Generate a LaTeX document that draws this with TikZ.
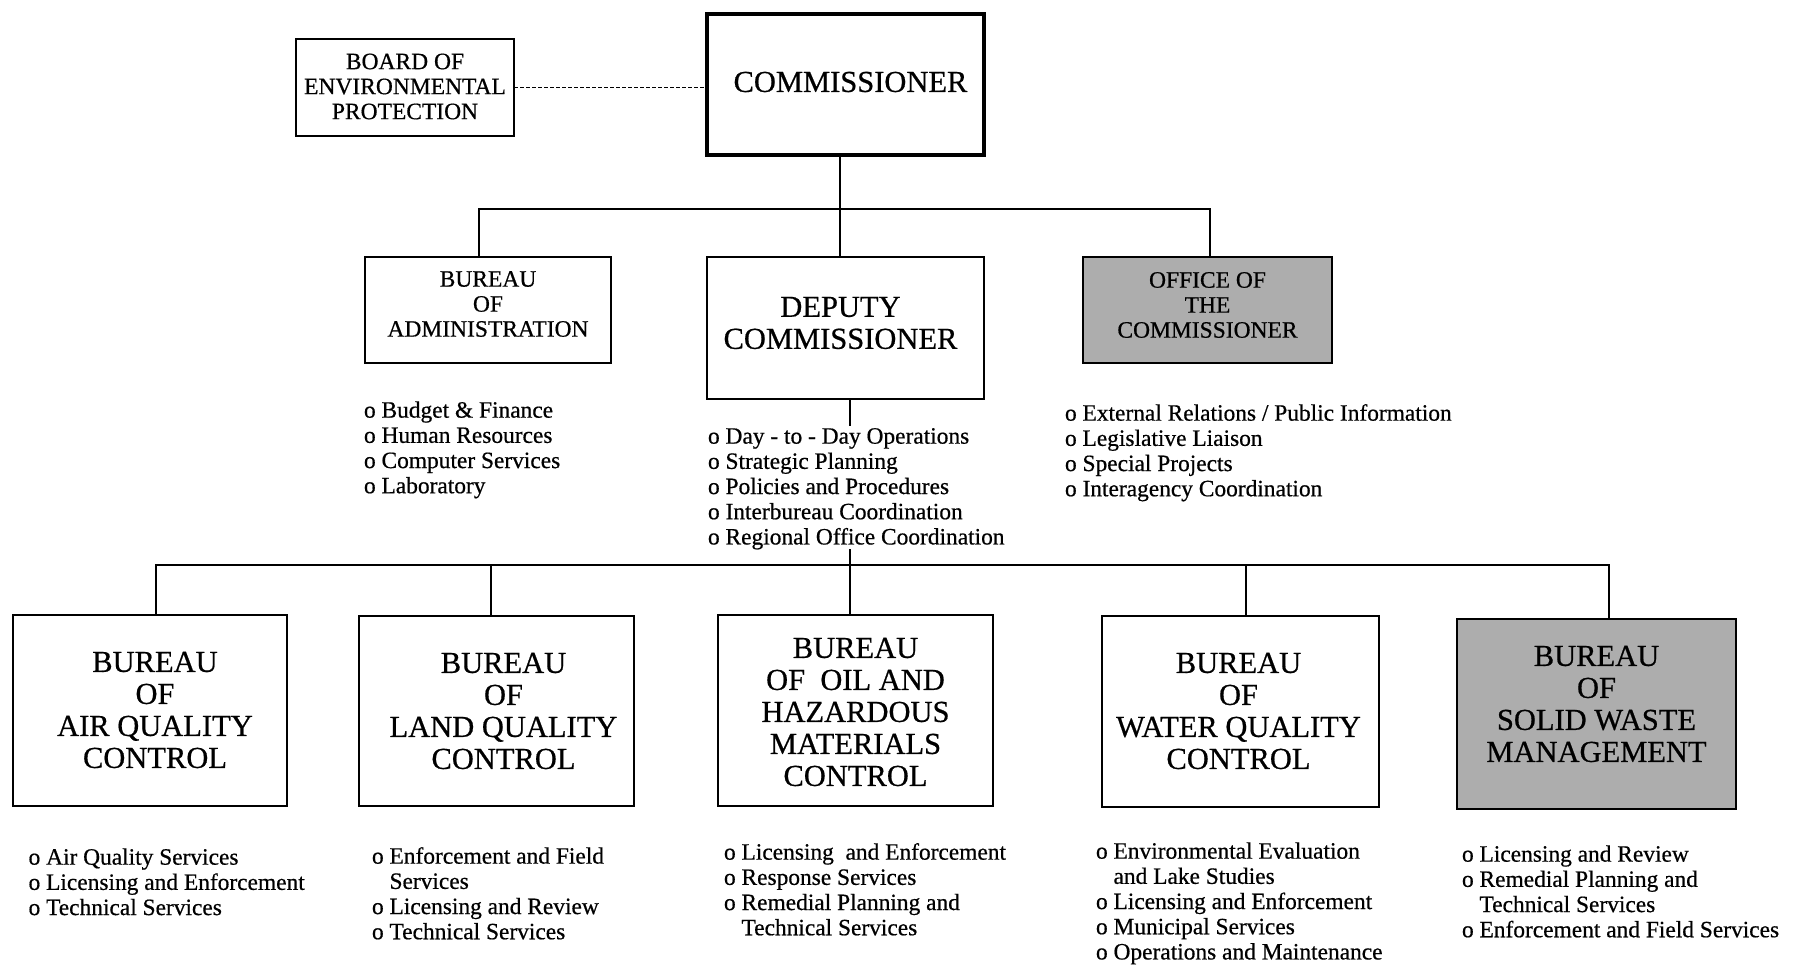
\documentclass[tikz,border=0pt]{standalone}
\usepackage{fontspec}
\setmainfont{Liberation Serif}[FakeBold=0.6]
\usetikzlibrary{calc}
\newcommand{\cont}{\hphantom{o\ }}
\begin{document}
\begin{tikzpicture}[x=1pt,y=-1pt,
  every node/.style={inner sep=0pt, outer sep=0pt},
  unit/.style={draw, line width=2pt},
  shaded/.style={unit, fill=black!32},
  bigtxt/.style={font=\fontsize{30.5}{32}\selectfont, align=center},
  midtxt/.style={font=\fontsize{23.5}{25}\selectfont, align=center},
  duties/.style={anchor=north west, align=left, font=\fontsize{23.4}{25.2}\selectfont},
  wire/.style={line width=2.2pt},
  link/.style={line width=1.2pt, dash pattern=on 4pt off 2pt}]
\useasboundingbox (0,0) rectangle (1794,964);

% top level
\node[unit, line width=4pt, minimum width=277, minimum height=141,
  label={[bigtxt, xshift=5pt, yshift=2pt]center:COMMISSIONER}] (comm) at (845.5,84) {};
\node[unit, minimum width=218, minimum height=97,
  label={[midtxt, yshift=1pt]center:{BOARD OF\\ENVIRONMENTAL\\PROTECTION}}] (board) at (405,87.5) {};

% second level
\node[unit, minimum width=246, minimum height=106,
  label={[midtxt, yshift=6pt]center:{BUREAU\\OF\\ADMINISTRATION}}] (admin) at (488,310) {};
\node[unit, minimum width=277, minimum height=142,
  label={[bigtxt, xshift=-5pt, yshift=5pt]center:{DEPUTY\\COMMISSIONER}}] (deputy) at (845.5,328) {};
\node[shaded, minimum width=249, minimum height=106,
  label={[midtxt, yshift=5pt]center:{OFFICE OF\\THE\\COMMISSIONER}}] (office) at (1207.5,310) {};

% bureaus
\node[unit, minimum width=274, minimum height=191,
  label={[bigtxt, xshift=5pt]center:{BUREAU\\OF\\AIR QUALITY\\CONTROL}}] (air) at (150,710) {};
\node[unit, minimum width=275, minimum height=190,
  label={[bigtxt, xshift=7pt]center:{BUREAU\\OF\\LAND QUALITY\\CONTROL}}] (land) at (496.5,711) {};
\node[unit, minimum width=275, minimum height=191,
  label={[bigtxt, yshift=-2pt]center:{BUREAU\\OF\ \ OIL AND\\HAZARDOUS\\MATERIALS\\CONTROL}}] (oil) at (855.5,710) {};
\node[unit, minimum width=277, minimum height=191,
  label={[bigtxt, xshift=-2pt]center:{BUREAU\\OF\\WATER QUALITY\\CONTROL}}] (water) at (1240.5,711) {};
\node[shaded, minimum width=279, minimum height=190,
  label={[bigtxt, yshift=10pt]center:{BUREAU\\OF\\SOLID WASTE\\MANAGEMENT}}] (solid) at (1596.5,714) {};

% duty lists
\node[duties] (adminlist) at (364,400) {\strut o Budget \& Finance\\o Human Resources\\o Computer Services\\o Laboratory};
\node[duties] (deputylist) at (708,426) {\strut o Day - to - Day Operations\\o Strategic Planning\\o Policies and Procedures\\o Interbureau Coordination\\o Regional Office Coordination};
\node[duties] (officelist) at (1065,403) {\strut o External Relations / Public Information\\o Legislative Liaison\\o Special Projects\\o Interagency Coordination};
\node[duties] (airlist) at (28.6,847) {\strut o Air Quality Services\\o Licensing and Enforcement\\o Technical Services};
\node[duties] (landlist) at (372,846) {\strut o Enforcement and Field\\\cont Services\\o Licensing and Review\\o Technical Services};
\node[duties] (oillist) at (724,842) {\strut o Licensing\ \ and Enforcement\\o Response Services\\o Remedial Planning and\\\cont Technical Services};
\node[duties] (waterlist) at (1096,841) {\strut o Environmental Evaluation\\\cont and Lake Studies\\o Licensing and Enforcement\\o Municipal Services\\o Operations and Maintenance};
\node[duties] (solidlist) at (1462,844) {\strut o Licensing and Review\\o Remedial Planning and\\\cont Technical Services\\o Enforcement and Field Services};

% board link
\draw[link] (board.east) -- (board.east -| comm.west);

% commissioner to second level
\coordinate (busA) at (840,209);
\coordinate (busAw) at (479,209);
\coordinate (busAe) at (1210,209);
\draw[wire] (comm.south -| busA) -- (busA);
\draw[wire, line cap=rect] (busAw) -- (busAe);
\draw[wire] (busAw) -- (busAw |- admin.north);
\draw[wire] (busA) -- (busA |- deputy.north);
\draw[wire] (busAe) -- (busAe |- office.north);

% deputy to bureaus
\coordinate (dtail) at (850,426);
\draw[wire] (deputy.south -| dtail) -- (dtail);
\coordinate (drop) at (850,549);
\coordinate (busBw) at (156,565);
\coordinate (busBe) at (1609,565);
\coordinate (busBland) at (491,565);
\coordinate (busBwater) at (1246,565);
\draw[wire, line cap=rect] (busBw) -- (busBe);
\draw[wire] (drop) -- (drop |- oil.north);
\draw[wire] (busBw) -- (busBw |- air.north);
\draw[wire] (busBland) -- (busBland |- land.north);
\draw[wire] (busBwater) -- (busBwater |- water.north);
\draw[wire] (busBe) -- (busBe |- solid.north);
\end{tikzpicture}
\end{document}
